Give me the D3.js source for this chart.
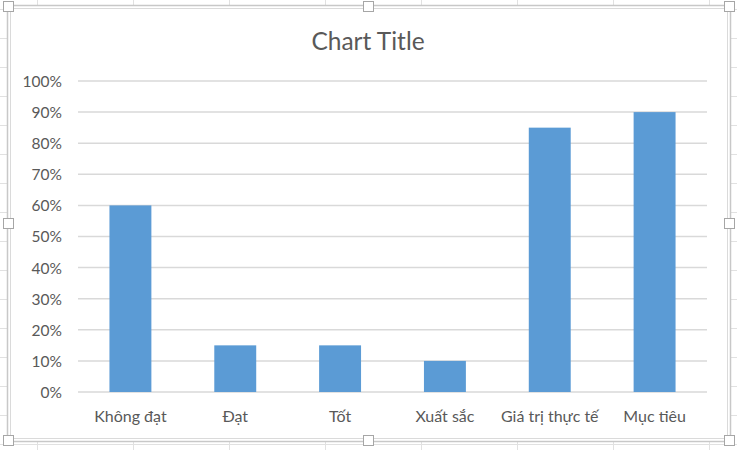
<!DOCTYPE html>
<html lang="vi">
<head>
    <meta charset="UTF-8">
    <title>Chart Title</title>
    <script type="text/javascript" src="https://cdn.jsdelivr.net/npm/d3@7/dist/d3.min.js"></script>
    <style>
        body { margin: 0; background: #fff; }
        text { font-family: Lato, "Open Sans", sans-serif; fill: #595959; }
    </style>
</head>
<body>

<script>
    let width = 737;
    let height = 450;

    // du lieu
    var categories = ["Không đạt", "Đạt", "Tốt", "Xuất sắc", "Giá trị thực tế", "Mục tiêu"];
    var values = [0.60, 0.15, 0.15, 0.10, 0.85, 0.90];
    var yTicks = [0, 0.1, 0.2, 0.3, 0.4, 0.5, 0.6, 0.7, 0.8, 0.9, 1.0];
    var chartTitle = "Chart Title";

    var svg = d3.select("body").append("svg")
        .attr("width", width)
        .attr("height", height)

    // luoi bang tinh phia sau
    var sheet = svg.append("g").attr("stroke", "#e1e1e1").attr("stroke-width", 1);
    for (var cx = 37; cx < width; cx += 96) {
        sheet.append("line").attr("x1", cx + 0.5).attr("x2", cx + 0.5).attr("y1", 0).attr("y2", height);
    }
    for (var ry = 9; ry < height; ry += 29) {
        sheet.append("line").attr("x1", 0).attr("x2", width).attr("y1", ry + 0.5).attr("y2", ry + 0.5);
    }

    // khung bieu do
    svg.append("rect")
        .attr("x", 7.5).attr("y", 5.5).attr("width", 723).attr("height", 436)
        .attr("fill", "#fff").attr("stroke", "#c8c8c8").attr("stroke-width", 1.5)
    svg.append("rect")
        .attr("x", 10.5).attr("y", 8.5).attr("width", 717).attr("height", 430)
        .attr("fill", "none").attr("stroke", "#dadada").attr("stroke-width", 1)

    var x = d3.scaleBand()
        .domain(categories)
        .range([78, 707])
        .paddingInner(0.6)
        .paddingOuter(0.3)

    var y = d3.scaleLinear()
        .domain([0, 1])
        .range([392, 81])

    // duong luoi ngang
    svg.append("g")
        .selectAll("line")
        .data(yTicks)
        .enter()
        .append("line")
        .attr("x1", 78)
        .attr("x2", 707)
        .attr("y1", function (d) { return y(d); })
        .attr("y2", function (d) { return y(d); })
        .attr("stroke", "#d9d9d9")
        .attr("stroke-width", 1.5)

    // truc y
    var yAxis = svg.append("g")
        .attr("transform", "translate(62,0)")
        .call(d3.axisLeft(y).tickValues(yTicks).tickFormat(d3.format(".0%")).tickSize(0).tickPadding(0))
    yAxis.select(".domain").remove()
    yAxis.selectAll("text")
        .style("font-size", "15.5px")
        .attr("dy", "0.35em")
        .attr("fill", "#595959")

    // cot
    svg.append("g")
        .selectAll("rect")
        .data(values)
        .enter()
        .append("rect")
        .attr("x", function (d, i) { return x(categories[i]); })
        .attr("width", x.bandwidth())
        .attr("y", function (d) { return y(d); })
        .attr("height", function (d) { return y(0) - y(d); })
        .attr("fill", "#5b9bd5")

    // truc x
    var xAxis = svg.append("g")
        .attr("transform", "translate(0,392)")
        .call(d3.axisBottom(x).tickSize(0).tickPadding(0))
    xAxis.select(".domain").remove()
    xAxis.selectAll("text")
        .style("font-size", "16px")
        .attr("y", 30)
        .attr("dy", 0)
        .attr("fill", "#595959")

    // tieu de
    svg.append("text")
        .attr("x", 368)
        .attr("y", 50)
        .attr("text-anchor", "middle")
        .style("font-size", "24.5px")
        .text(chartTitle)

    // o dieu khien khung
    var handles = [[8.5, 6.5], [368.5, 6.5], [729.5, 6.5], [8.5, 223.5], [729.5, 223.5], [8.5, 440.5], [368.5, 440.5], [729.5, 440.5]];
    svg.append("g")
        .selectAll("rect")
        .data(handles)
        .enter()
        .append("rect")
        .attr("x", function (d) { return d[0] - 5; })
        .attr("y", function (d) { return d[1] - 5; })
        .attr("width", 10)
        .attr("height", 10)
        .attr("fill", "#fff")
        .attr("stroke", "#a6a6a6")
        .attr("stroke-width", 1)

</script>

</body>
</html>
